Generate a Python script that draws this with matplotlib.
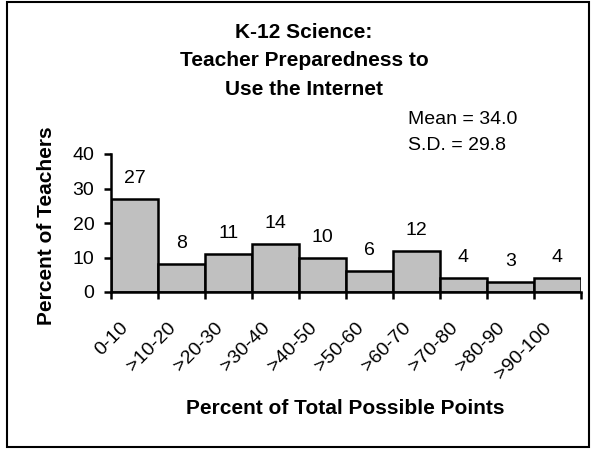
import matplotlib.pyplot as plt
import matplotlib.transforms as mtransforms
from matplotlib.patches import Rectangle

plt.rcParams['font.family'] = ['Liberation Sans', 'DejaVu Sans']

categories = ['0-10', '>10-20', '>20-30', '>30-40', '>40-50',
              '>50-60', '>60-70', '>70-80', '>80-90', '>90-100']
percents = [27, 8, 11, 14, 10, 6, 12, 4, 3, 4]
title_lines = ['K-12 Science:', 'Teacher Preparedness to', 'Use the Internet']
mean_text = 'Mean = 34.0'
sd_text = 'S.D. = 29.8'

W, H = 596, 450


def fx(px):
    return px / W


def fy(py):
    return 1 - py / H


def main():
    fig = plt.figure(figsize=(W / 100, H / 100), dpi=100)

    # outer frame around the whole chart
    fig.patches.append(Rectangle((fx(7), fy(447)), 582 / W, 445 / H,
                                 transform=fig.transFigure, fill=False,
                                 edgecolor='black', linewidth=1.5))

    ax = fig.add_axes([fx(111), fy(292), 470 / W, 138 / H])
    x = list(range(len(categories)))
    ax.bar(x, percents, width=1.0, align='edge', color='#c0c0c0',
           edgecolor='black', linewidth=1.8)

    # value labels above the bars
    for i, v in enumerate(percents):
        ax.annotate(str(v), (i + 0.5, v), xytext=(0, 11.5),
                    textcoords='offset points', ha='center', va='baseline',
                    fontsize=14)

    ax.set_xlim(0, len(categories))
    ax.set_ylim(0, 40)
    ax.set_yticks([0, 10, 20, 30, 40])
    ax.set_xticks(range(len(categories) + 1))
    ax.set_xticklabels([])
    ax.set_xticks([i + 0.5 for i in x], minor=True)
    ax.set_xticklabels(categories, minor=True, rotation=45, ha='right',
                       va='center', rotation_mode='anchor', fontsize=14)
    ax.tick_params(axis='x', which='minor', length=0, pad=24)
    ax.tick_params(axis='x', which='major', direction='out', length=5, width=1.8)
    ax.tick_params(axis='y', direction='out', length=5, width=1.8,
                   labelsize=14, pad=7)
    shift = mtransforms.ScaledTranslation(-6 / 72, 0, fig.dpi_scale_trans)
    for lab in ax.get_xticklabels(minor=True):
        lab.set_transform(lab.get_transform() + shift)

    ax.spines['top'].set_visible(False)
    ax.spines['right'].set_visible(False)
    ax.spines['left'].set_linewidth(1.8)
    ax.spines['bottom'].set_linewidth(1.8)

    fig.text(fx(47), fy(226), 'Percent of Teachers', rotation=90,
             ha='center', va='center', fontsize=15, fontweight='bold')
    fig.text(fx(345), fy(408), 'Percent of Total Possible Points',
             ha='center', va='center', fontsize=15, fontweight='bold')

    for line, base in zip(title_lines, [38, 66.5, 95]):
        fig.text(fx(304), fy(base), line, ha='center', va='baseline',
                 fontsize=15, fontweight='bold')
    fig.text(fx(408), fy(124.5), mean_text, ha='left', va='baseline', fontsize=14)
    fig.text(fx(408), fy(150), sd_text, ha='left', va='baseline', fontsize=14)

    fig.savefig('out.png', dpi=100)


if __name__ == '__main__':
    main()
